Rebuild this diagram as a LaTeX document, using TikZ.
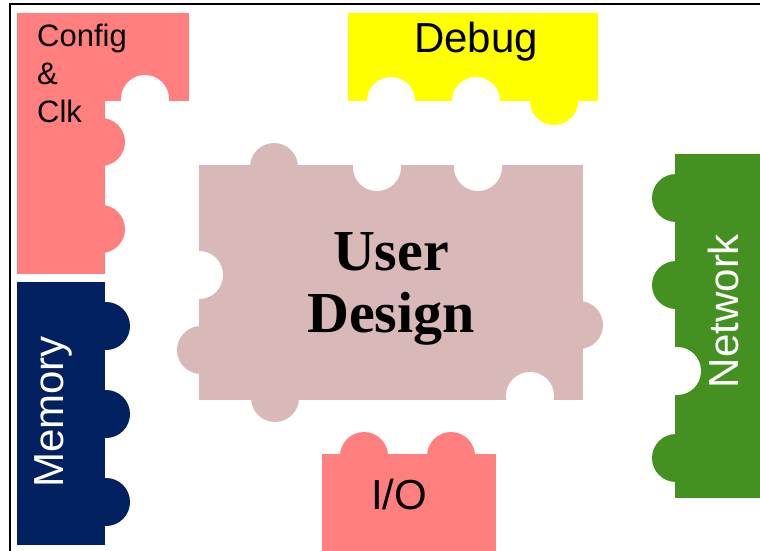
\documentclass[tikz,border=0pt]{standalone}
\usepackage{fontspec}
\setmainfont{Liberation Serif}
\setsansfont{Liberation Sans}
\usepackage{tikz}
\definecolor{cfgpink}{RGB}{255,127,127}
\definecolor{dbgyellow}{RGB}{255,255,0}
\definecolor{userrose}{RGB}{217,184,184}
\definecolor{memnavy}{RGB}{0,32,96}
\definecolor{netgreen}{RGB}{68,145,34}
\tikzset{
  puzzlepic/.style={
    x=1pt
    ,y=-1pt
  }
  ,knob/.style={radius=24pt}
  ,hole/.style={fill=white}
  ,frame/.style={draw=black,line width=2pt}
  ,piecename/.style={
    inner sep=0pt
    ,font={\sffamily\fontsize{42}{50}\selectfont}
  }
  ,sidename/.style={piecename,rotate=90,color=white,anchor=base}
  ,cfgname/.style={
    inner sep=0pt
    ,align=left
    ,anchor=north west
    ,font={\sffamily\fontsize{31}{38}\selectfont}
  }
  ,username/.style={
    inner sep=0pt
    ,align=center
    ,anchor=north
    ,font={\bfseries\fontsize{58}{62}\selectfont}
  }
}

\begin{document}
\begin{tikzpicture}[puzzlepic]
    \useasboundingbox (0,0) rectangle (760,550);
    \clip (0,0) rectangle (760,550);
    \draw[frame] (10,4) rectangle (800,600);

    % config & clk piece
    \fill[cfgpink] (17,13) rectangle (189,101);
    \fill[cfgpink] (17,101) rectangle (105,274);
    \fill[cfgpink] (101,142) circle[knob];
    \fill[cfgpink] (101,229) circle[knob];
    \fill[hole] (145,99) circle[knob];
    \node[cfgname] (cfg) at (37,24) {Config\\\&\\Clk};

    % memory piece
    \fill[memnavy] (17,282) rectangle (105,545);
    \fill[memnavy] (106,326) circle[knob];
    \fill[memnavy] (106,414) circle[knob];
    \fill[memnavy] (106,502) circle[knob];
    \node[sidename] (mem) at (63,412) {Memory};

    % debug piece
    \fill[dbgyellow] (348,13) rectangle (598,101);
    \fill[dbgyellow] (554,101) circle[knob];
    \fill[hole] (391,101) circle[knob];
    \fill[hole] (476,101) circle[knob];
    \node[piecename,anchor=base] (dbg) at (476,52) {Debug};

    % user design piece
    \fill[userrose] (199,165) rectangle (583,400);
    \fill[userrose] (274,167) circle[knob];
    \fill[userrose] (201,350) circle[knob];
    \fill[userrose] (275,398) circle[knob];
    \fill[userrose] (579,325) circle[knob];
    \fill[hole] (377,167) circle[knob];
    \fill[hole] (478,167) circle[knob];
    \fill[hole] (199,275) circle[knob];
    \fill[hole] (530,396) circle[knob];
    \node[username] (user) at (391,232) {User\\Design};

    % i/o piece
    \fill[cfgpink] (322,454) rectangle (496,560);
    \fill[cfgpink] (364,456) circle[knob];
    \fill[cfgpink] (451,456) circle[knob];
    \node[piecename,anchor=base] (io) at (399,509) {I/O};

    % network piece
    \fill[netgreen] (675,154) rectangle (770,498);
    \fill[netgreen] (676,198) circle[knob];
    \fill[netgreen] (676,285) circle[knob];
    \fill[netgreen] (676,458) circle[knob];
    \fill[hole] (677,371) circle[knob];
    \node[sidename] (net) at (738,311) {Network};
\end{tikzpicture}
\end{document}
